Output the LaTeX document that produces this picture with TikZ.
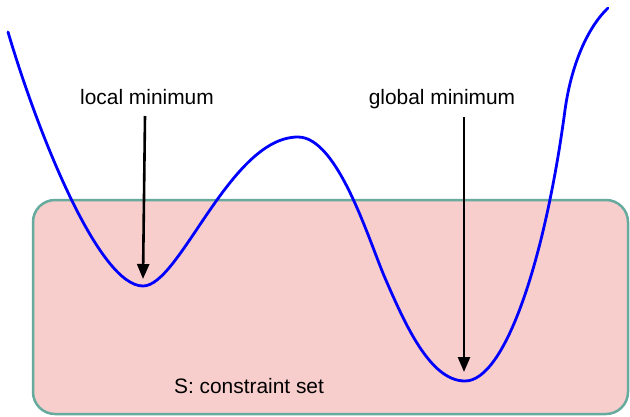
\documentclass[tikz,border=0pt]{standalone}
\usepackage{fontspec}
\setmainfont{Liberation Sans}
\usetikzlibrary{arrows.meta}
\definecolor{setfill}{HTML}{F8CECC}
\definecolor{setdraw}{HTML}{67AB9F}
\begin{document}
\begin{tikzpicture}[x=1pt,y=-1pt,
  lbl/.style={font=\fontsize{20.9}{25}\selectfont, inner sep=0pt, anchor=base},
  pointer/.style={line width=2.6pt, -{Triangle[width=12pt,length=15pt]}},
  setbox/.style={fill=setfill, draw=setdraw, line width=2.5pt, rounded corners=22pt},
  fcurve/.style={draw=blue, line width=2.8pt, line cap=round}]
\useasboundingbox (0,0) rectangle (630,416);
\draw[setbox] (33,200) rectangle (628,414);
\coordinate (c0) at (8,32);
\coordinate (lmin) at (143,286);
\coordinate (peak) at (298,137);
\coordinate (infl) at (385,278);
\coordinate (gmin) at (465,381);
\coordinate (rise) at (565,110);
\coordinate (c1) at (608,8);
\draw[fcurve] (c0) .. controls (40,140) and (100,286) .. (lmin)
  .. controls (180,286) and (230,137) .. (peak)
  .. controls (338,137) and (369,241) .. (infl)
  .. controls (405,324) and (430,381) .. (gmin)
  .. controls (505,381) and (545,260) .. (rise)
  .. controls (572,60) and (590,25) .. (c1);
\node[lbl] (loc) at (147,104) {local minimum};
\node[lbl] (glob) at (442,104) {global minimum};
\node[lbl] (S) at (249,393) {S: constraint set};
\coordinate (locA) at (145,116);
\coordinate (locB) at (143,279);
\coordinate (globA) at (464,117);
\coordinate (globB) at (464,372);
\draw[pointer] (locA) -- (locB);
\draw[pointer] (globA) -- (globB);
\end{tikzpicture}
\end{document}
